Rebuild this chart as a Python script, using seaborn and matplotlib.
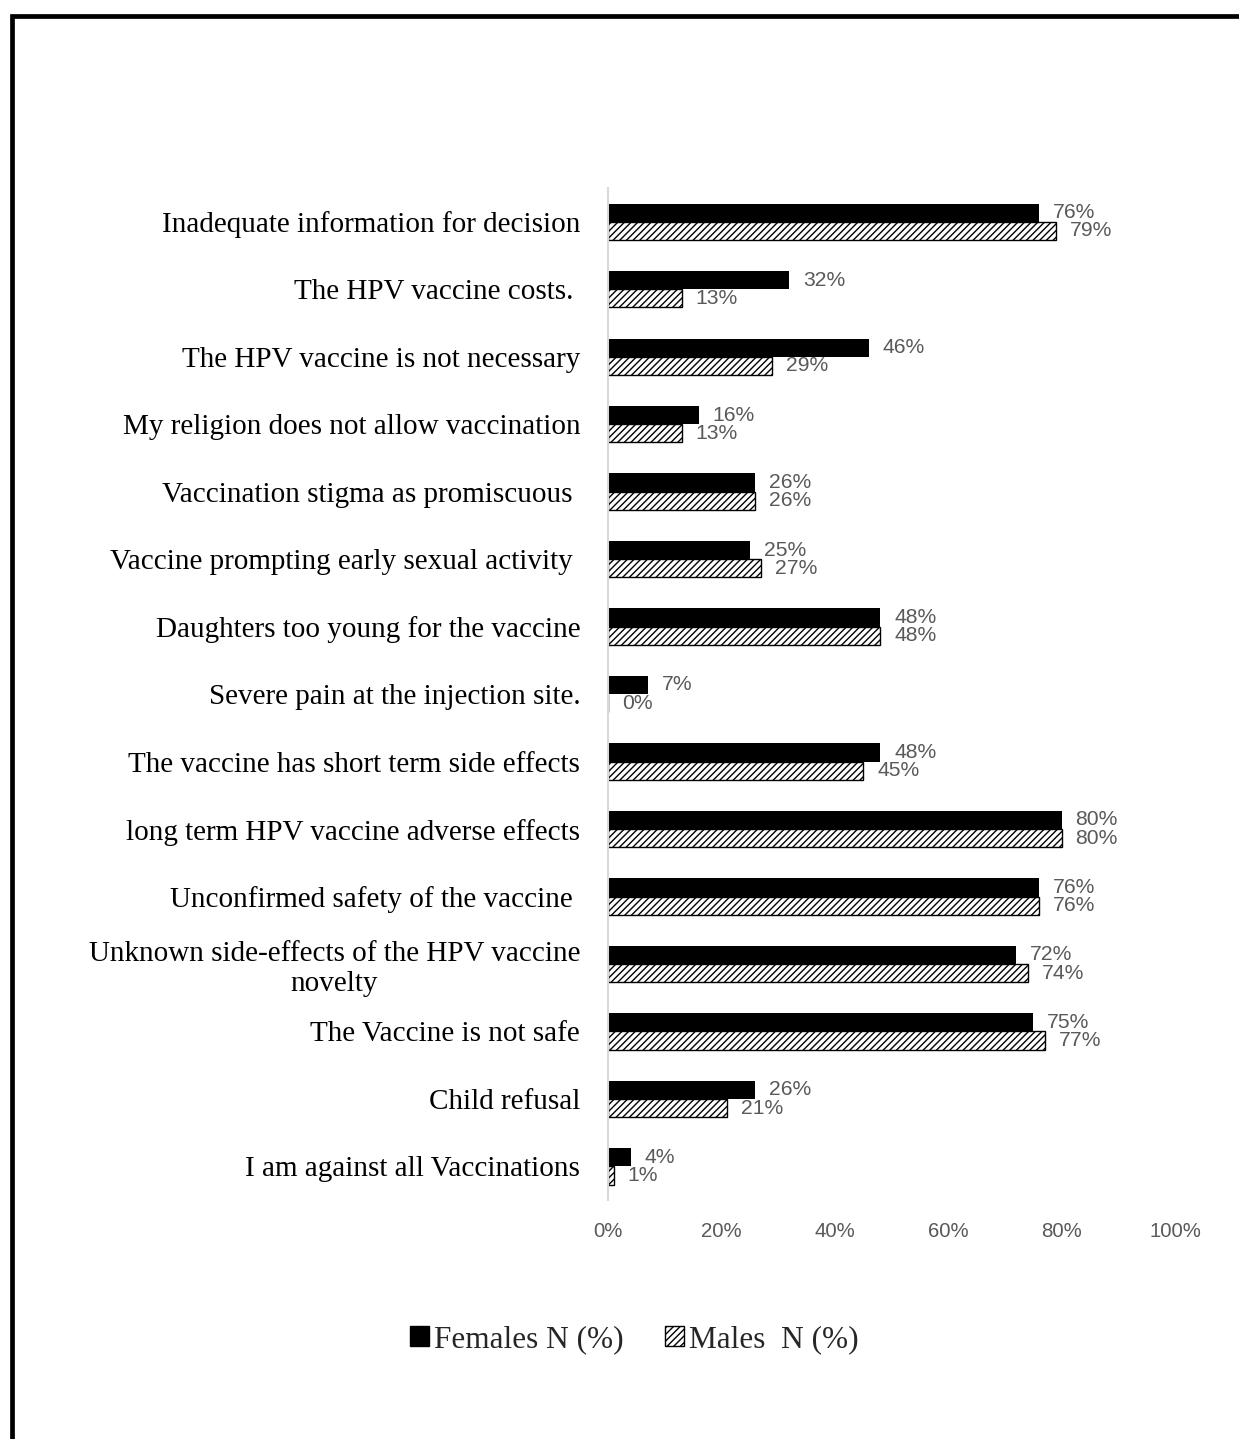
import matplotlib
matplotlib.use("Agg")
import matplotlib.pyplot as plt
import seaborn as sns
import pandas as pd
from matplotlib.patches import Rectangle, Patch

categories = [
    "Inadequate information for decision",
    "The HPV vaccine costs. ",
    "The HPV vaccine is not necessary",
    "My religion does not allow vaccination",
    "Vaccination stigma as promiscuous ",
    "Vaccine prompting early sexual activity ",
    "Daughters too young for the vaccine",
    "Severe pain at the injection site.",
    "The vaccine has short term side effects",
    "long term HPV vaccine adverse effects",
    "Unconfirmed safety of the vaccine ",
    "Unknown side-effects of the HPV vaccine\nnovelty",
    "The Vaccine is not safe",
    "Child refusal",
    "I am against all Vaccinations",
]
females = [76, 32, 46, 16, 26, 25, 48, 7, 48, 80, 76, 72, 75, 26, 4]
males = [79, 13, 29, 13, 26, 27, 48, 0, 45, 80, 76, 74, 77, 21, 1]
series_names = ["Females N (%)", "Males  N (%)"]
xticks = [0, 20, 40, 60, 80, 100]

df = pd.DataFrame({
    "cat": categories * 2,
    "val": females + males,
    "sex": [series_names[0]] * len(categories) + [series_names[1]] * len(categories),
})

sns.set_theme(style="white")
plt.rcParams["hatch.linewidth"] = 1.0

fig = plt.figure(figsize=(12.39, 14.39), dpi=100)
ax = fig.add_axes([0.4907, 0.166, 0.4576, 0.7033])

sns.barplot(data=df, y="cat", x="val", hue="sex", orient="h",
            palette=["black", "white"], width=0.54, gap=0, ax=ax,
            legend=False, saturation=1)

n = len(categories)
for i, bar in enumerate(ax.patches[:2 * n]):
    if i >= n:
        bar.set_hatch("/////")
        bar.set_edgecolor("black")
        bar.set_linewidth(1.0)
        bar.set_facecolor("white")
    else:
        bar.set_edgecolor("black")
        bar.set_linewidth(0)

for cont in ax.containers:
    ax.bar_label(cont, labels=[f"{int(round(v))}%" for v in cont.datavalues],
                 padding=10, fontsize=15.2, color="#595959",
                 family="Liberation Sans")

ax.set_xlim(0, 100)
ax.set_xticks(xticks)
ax.set_xticklabels([f"{t}%" for t in xticks], fontsize=14.7, color="#595959",
                   family="Liberation Sans")
ax.tick_params(axis="x", length=0, pad=16)
ax.tick_params(axis="y", length=0, pad=20)
for lab in ax.get_yticklabels():
    lab.set_family("Liberation Serif")
    lab.set_fontsize(21)
    lab.set_color("black")
    lab.set_horizontalalignment("right")
    lab.set_multialignment("center")
ax.set_xlabel("")
ax.set_ylabel("")
for s in ["top", "right", "bottom"]:
    ax.spines[s].set_visible(False)
ax.spines["left"].set_color("#d9d9d9")
ax.spines["left"].set_linewidth(1.5)
ax.set_ylim(n - 0.5, -0.5)

handles = [Patch(facecolor="black", edgecolor="black"),
           Patch(facecolor="white", edgecolor="black", hatch="/////")]
fig.legend(handles, series_names, loc="center", bbox_to_anchor=(0.512, 0.069),
           ncol=2, frameon=False, prop={"family": "Liberation Serif", "size": 22.5},
           handlelength=0.6, handleheight=0.6, handletextpad=0.15, columnspacing=1.35)

frame = Rectangle((12 / 1239, -0.2), 1.2, (1 - 16 / 1439) + 0.2,
                  transform=fig.transFigure, fill=False, edgecolor="black",
                  linewidth=3.4, zorder=10)
fig.patches.append(frame)

fig.savefig("out.png", dpi=100, facecolor="white")
